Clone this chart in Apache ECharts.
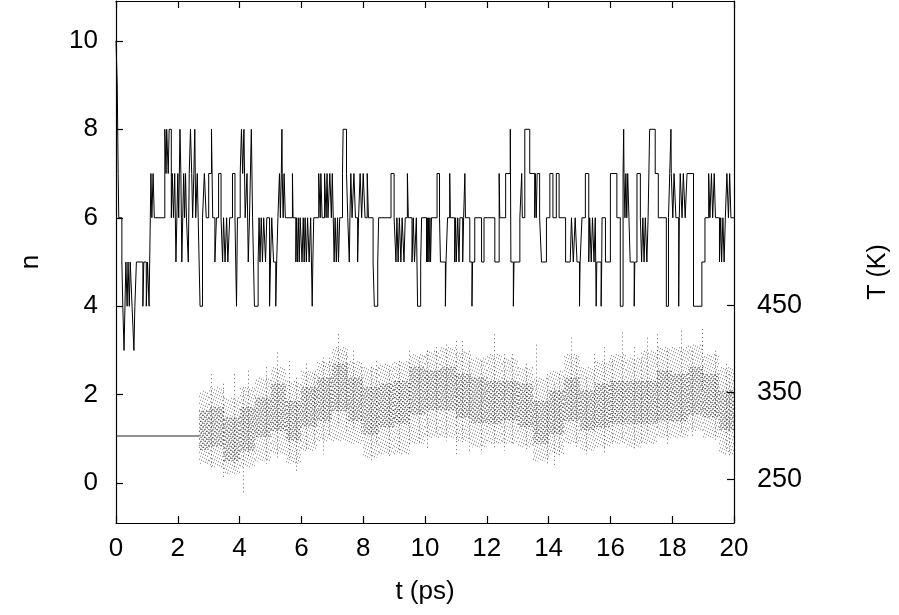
<!DOCTYPE html>
<html>
<head>
<meta charset="utf-8">
<title>n and T vs t</title>
<script src="https://cdn.jsdelivr.net/npm/echarts@6/dist/echarts.min.js"></script>
<style>
  html, body { margin: 0; padding: 0; background: #fff; }
  #chart { width: 899px; height: 615px; }
</style>
</head>
<body>
<div id="chart"></div>
<script>
// n(t): nValues[i] holds from nTimes[i] until nTimes[i+1]
const nTimes = [
  0.00, 0.04, 0.07, 0.09, 0.19, 0.22, 0.26, 0.29, 0.32, 0.36, 0.39, 0.43, 0.46, 0.52, 0.58, 0.61, 0.66, 0.87, 0.90, 0.98,
  1.02, 1.07, 1.11, 1.13, 1.16, 1.20, 1.24, 1.58, 1.62, 1.64, 1.69, 1.72, 1.79, 1.82, 1.86, 1.90, 1.94, 1.97, 2.00, 2.03,
  2.07, 2.10, 2.13, 2.16, 2.19, 2.22, 2.25, 2.28, 2.34, 2.37, 2.41, 2.45, 2.48, 2.52, 2.55, 2.58, 2.63, 2.66, 2.72, 2.80,
  2.86, 2.92, 3.00, 3.09, 3.13, 3.20, 3.25, 3.32, 3.40, 3.45, 3.48, 3.53, 3.58, 3.62, 3.68, 3.77, 3.85, 3.90, 3.93, 4.02,
  4.06, 4.10, 4.14, 4.18, 4.24, 4.28, 4.32, 4.38, 4.42, 4.48, 4.60, 4.63, 4.66, 4.70, 4.74, 4.78, 4.84, 4.88, 4.97, 5.00,
  5.04, 5.10, 5.17, 5.20, 5.24, 5.29, 5.32, 5.35, 5.37, 5.38, 5.41, 5.44, 5.48, 5.71, 5.73, 5.82, 5.84, 5.87, 5.90, 5.93,
  5.96, 6.02, 6.06, 6.09, 6.12, 6.16, 6.20, 6.25, 6.30, 6.35, 6.37, 6.40, 6.56, 6.61, 6.63, 6.67, 6.75, 6.80, 6.83, 6.86,
  6.92, 6.97, 7.00, 7.03, 7.06, 7.09, 7.13, 7.17, 7.20, 7.24, 7.33, 7.35, 7.46, 7.50, 7.55, 7.57, 7.60, 7.64, 7.70, 7.75,
  7.82, 7.85, 7.90, 7.95, 8.00, 8.06, 8.13, 8.17, 8.32, 8.36, 8.47, 8.50, 8.90, 9.00, 9.06, 9.09, 9.13, 9.17, 9.22, 9.26,
  9.32, 9.36, 9.43, 9.46, 9.58, 9.62, 9.66, 9.72, 9.76, 9.86, 9.89, 10.05, 10.07, 10.09, 10.11, 10.13, 10.16, 10.18, 10.21, 10.39,
  10.47, 10.50, 10.66, 10.68, 10.73, 10.80, 10.82, 10.96, 10.99, 11.01, 11.06, 11.10, 11.13, 11.22, 11.25, 11.29, 11.31, 11.45, 11.52, 11.54,
  11.61, 11.83, 11.91, 12.26, 12.40, 12.42, 12.61, 12.76, 12.78, 12.86, 12.88, 13.07, 13.13, 13.15, 13.23, 13.39, 13.55, 13.57, 13.60, 13.63,
  13.71, 13.77, 13.93, 14.04, 14.14, 14.25, 14.34, 14.55, 14.70, 14.74, 14.80, 14.86, 14.92, 15.00, 15.02, 15.08, 15.19, 15.30, 15.33, 15.38,
  15.42, 15.47, 15.51, 15.54, 15.56, 15.70, 15.72, 15.73, 15.84, 16.00, 16.21, 16.32, 16.41, 16.43, 16.44, 16.47, 16.50, 16.53, 16.56, 16.60,
  16.64, 16.77, 16.79, 16.86, 16.97, 17.01, 17.05, 17.09, 17.13, 17.18, 17.22, 17.27, 17.45, 17.55, 17.81, 17.88, 17.92, 17.96, 17.97, 18.02,
  18.06, 18.12, 18.21, 18.23, 18.26, 18.32, 18.36, 18.42, 18.48, 18.69, 18.96, 19.06, 19.18, 19.22, 19.27, 19.31, 19.36, 19.40, 19.53, 19.57,
  19.60, 19.64, 19.68, 19.72, 19.77, 19.82, 19.86, 19.90, 20.00
];
const nValues = [
  10, 9, 7, 6, 5, 4, 3, 4, 5, 4, 5, 4, 5, 4, 3, 4, 5, 4, 5, 4,
  5, 4, 6, 7, 6, 7, 6, 8, 7, 8, 7, 8, 6, 7, 6, 7, 5, 6, 7, 6,
  8, 7, 5, 6, 7, 6, 7, 6, 5, 7, 8, 7, 6, 7, 8, 6, 7, 6, 4, 6,
  7, 6, 7, 8, 6, 5, 6, 7, 6, 5, 6, 5, 6, 5, 6, 7, 6, 4, 6, 7,
  8, 7, 8, 6, 7, 5, 6, 8, 6, 4, 5, 6, 5, 6, 5, 6, 5, 6, 4, 5,
  6, 5, 4, 5, 6, 7, 6, 7, 8, 7, 6, 7, 6, 7, 6, 5, 6, 5, 6, 5,
  6, 5, 6, 5, 6, 5, 6, 5, 6, 4, 5, 6, 7, 6, 7, 6, 7, 6, 7, 6,
  7, 6, 7, 6, 5, 6, 5, 6, 5, 6, 7, 8, 7, 6, 5, 6, 7, 6, 7, 6,
  5, 6, 7, 6, 7, 6, 7, 6, 5, 4, 5, 6, 7, 6, 5, 6, 5, 6, 5, 6,
  5, 6, 7, 6, 5, 6, 5, 6, 4, 5, 6, 5, 6, 5, 6, 5, 6, 5, 6, 7,
  6, 5, 4, 5, 6, 7, 6, 5, 6, 5, 6, 5, 6, 5, 6, 7, 6, 5, 4, 5,
  6, 5, 6, 5, 7, 6, 7, 8, 5, 4, 5, 6, 7, 6, 8, 7, 6, 7, 6, 7,
  6, 5, 6, 7, 6, 7, 6, 5, 5, 6, 5, 6, 5, 4, 5, 6, 7, 5, 6, 5,
  6, 5, 6, 4, 5, 4, 5, 6, 5, 7, 6, 4, 7, 8, 7, 6, 7, 6, 7, 6,
  5, 4, 5, 7, 6, 5, 6, 5, 6, 5, 6, 8, 7, 6, 4, 6, 7, 8, 7, 6,
  7, 6, 4, 6, 7, 6, 7, 6, 7, 4, 5, 6, 7, 6, 7, 6, 7, 6, 5, 6,
  5, 6, 5, 6, 7, 6, 7, 6, 6
];

// T before the cloud starts (K)
const flatTimes = [0, 2.7];
const flatTemps = [300, 300];

// T cloud read in blocks: sparse outer extent and dense core extent (K)
const binStart = [2.7, 3.0, 3.5, 4.0, 4.5, 5.0, 5.5, 6.0, 6.5, 7.0, 7.5, 8.0, 8.5, 9.0, 9.5, 10.0, 10.5, 11.0,
  11.5, 12.0, 12.5, 13.0, 13.5, 14.0, 14.5, 15.0, 15.5, 16.0, 16.5, 17.0, 17.5, 18.0, 18.5, 19.0, 19.5];
const binEnd = [3.0, 3.5, 4.0, 4.5, 5.0, 5.5, 6.0, 6.5, 7.0, 7.5, 8.0, 8.5, 9.0, 9.5, 10.0, 10.5, 11.0, 11.5,
  12.0, 12.5, 13.0, 13.5, 14.0, 14.5, 15.0, 15.5, 16.0, 16.5, 17.0, 17.5, 18.0, 18.5, 19.0, 19.5, 20.0];
const outerLo = [268, 264, 256, 264, 271, 279, 268, 283, 294, 294, 291, 275, 279, 279, 291, 298, 298, 294,
  287, 291, 291, 287, 271, 279, 291, 283, 287, 291, 287, 291, 298, 298, 306, 298, 279];
const outerHi = [352, 356, 344, 356, 367, 379, 363, 375, 386, 402, 386, 379, 383, 386, 394, 398, 402, 398,
  390, 394, 390, 379, 367, 375, 394, 379, 386, 394, 390, 398, 402, 402, 405, 394, 379];
const coreLo = [283, 287, 271, 283, 298, 306, 294, 310, 317, 329, 317, 302, 310, 314, 325, 329, 329, 321,
  314, 314, 317, 310, 291, 302, 317, 306, 310, 314, 314, 314, 317, 317, 325, 321, 306];
const coreHi = [329, 333, 321, 333, 344, 360, 340, 356, 367, 383, 367, 356, 360, 363, 379, 375, 379, 371,
  367, 363, 363, 360, 340, 352, 367, 352, 360, 363, 363, 363, 375, 371, 379, 371, 352];

// tall isolated streaks in the cloud
const streakT = [3.08, 3.45, 3.83, 4.12, 4.26, 4.85, 5.20, 5.61, 5.82, 6.15, 6.42, 6.69, 6.90, 7.17, 7.44, 7.66,
  7.93, 8.25, 8.41, 8.84, 9.17, 9.49, 9.81, 10.08, 10.35, 10.67, 11.00, 11.20, 11.43, 11.80, 12.24, 12.56, 12.83,
  13.26, 13.58, 13.96, 14.18, 14.34, 14.72, 14.88, 15.20, 15.47, 15.79, 16.06, 16.39, 16.76, 16.98, 17.19, 17.52,
  17.84, 18.27, 18.65, 18.97, 19.40, 19.73, 19.83];
const streakLo = [264, 252, 264, 233, 275, 268, 275, 271, 260, 283, 291, 279, 298, 314, 302, 306,
  302, 271, 291, 275, 283, 291, 291, 283, 302, 294, 279, 291, 283, 283, 287, 283, 291,
  283, 302, 268, 264, 275, 317, 287, 279, 302, 279, 291, 298, 283, 291, 302, 310,
  291, 302, 298, 352, 294, 283, 275];
const streakHi = [371, 360, 371, 356, 375, 379, 396, 386, 367, 383, 371, 390, 390, 417, 394, 398,
  379, 379, 386, 375, 386, 398, 390, 398, 402, 405, 409, 409, 390, 386, 417, 394, 394,
  383, 405, 371, 360, 371, 413, 390, 367, 394, 402, 386, 419, 402, 390, 413, 417,
  398, 421, 398, 423, 398, 383, 371];

const nTicks = [0, 2, 4, 6, 8, 10];
const tempTicks = [250, 350, 450];

const font = "'Liberation Sans', Arial, Helvetica, sans-serif";
const chart = echarts.init(document.getElementById('chart'));

// speckle pattern: each pixel column gets its own dash phase
function phase(x, period) {
  return (x * x * 7 + x * 3) % period;
}

function renderBand(params, api) {
  const x0 = Math.round(api.coord([api.value(0), 300])[0]);
  const x1 = Math.round(api.coord([api.value(1), 300])[0]);
  const yOL = api.coord([0, api.value(2)])[1];
  const yOH = api.coord([0, api.value(3)])[1];
  const yCL = api.coord([0, api.value(4)])[1];
  const yCH = api.coord([0, api.value(5)])[1];
  const children = [];
  for (let x = x0; x < x1; x++) {
    children.push({
      type: 'line',
      shape: { x1: x + 0.5, y1: yOH, x2: x + 0.5, y2: yOL },
      style: { stroke: 'rgba(0,0,0,0.5)', lineWidth: 1, lineDash: [1, 6], lineDashOffset: phase(x, 7) }
    });
    children.push({
      type: 'line',
      shape: { x1: x + 0.5, y1: yCH, x2: x + 0.5, y2: yCL },
      style: { stroke: 'rgba(0,0,0,0.55)', lineWidth: 1, lineDash: [1, 3], lineDashOffset: phase(x + 5, 4) }
    });
  }
  return { type: 'group', children: children };
}

function renderStreak(params, api) {
  const top = api.coord([api.value(0), api.value(2)]);
  const bot = api.coord([api.value(0), api.value(1)]);
  const x = Math.round(top[0]) + 0.5;
  return {
    type: 'line',
    shape: { x1: x, y1: top[1], x2: x, y2: bot[1] },
    style: { stroke: 'rgba(0,0,0,0.6)', lineWidth: 1, lineDash: [1, 3] }
  };
}

const axisLine = { show: true, onZero: false, lineStyle: { color: '#000', width: 1.2 } };
const tick = { show: true, inside: true, length: 7, lineStyle: { color: '#000', width: 1.2 } };

const option = {
  animation: false,
  backgroundColor: '#fff',
  grid: { left: 116, right: 164, top: 1, bottom: 92 },
  xAxis: [{
    type: 'value',
    min: 0,
    max: 20,
    interval: 2,
    position: 'bottom',
    axisLine: axisLine,
    axisTick: tick,
    splitLine: { show: false },
    axisLabel: { fontSize: 26, color: '#000', fontFamily: font, margin: 13 },
    name: 't (ps)',
    nameLocation: 'middle',
    nameGap: 56,
    nameTextStyle: { fontSize: 26, color: '#000', fontFamily: font }
  }, {
    type: 'value',
    min: 0,
    max: 20,
    interval: 2,
    position: 'top',
    axisLine: axisLine,
    axisTick: tick,
    splitLine: { show: false },
    axisLabel: { show: false }
  }],
  yAxis: [{
    type: 'value',
    min: -0.9,
    max: 10.9,
    position: 'left',
    axisLine: axisLine,
    axisTick: Object.assign({}, tick, { customValues: nTicks }),
    splitLine: { show: false },
    axisLabel: { customValues: nTicks, fontSize: 26, color: '#000', fontFamily: font, margin: 18 },
    name: 'n',
    nameLocation: 'middle',
    nameRotate: 90,
    nameGap: 72,
    nameTextStyle: { fontSize: 26, color: '#000', fontFamily: font }
  }, {
    type: 'value',
    min: 200,
    max: 800,
    position: 'right',
    axisLine: axisLine,
    axisTick: Object.assign({}, tick, { customValues: tempTicks }),
    splitLine: { show: false },
    axisLabel: { customValues: tempTicks, fontSize: 27, color: '#000', fontFamily: font, margin: 23 },
    name: 'T (K)',
    nameLocation: 'middle',
    nameRotate: 90,
    nameGap: 132,
    nameTextStyle: { fontSize: 25, color: '#000', fontFamily: font, padding: [0, 20, 0, 0] }
  }],
  series: [{
    type: 'custom',
    xAxisIndex: 0,
    yAxisIndex: 1,
    renderItem: renderBand,
    clip: true,
    encode: { x: [0, 1], y: [2, 3, 4, 5] },
    data: binStart.map((t, i) => [t, binEnd[i], outerLo[i], outerHi[i], coreLo[i], coreHi[i]]),
    silent: true
  }, {
    type: 'custom',
    xAxisIndex: 0,
    yAxisIndex: 1,
    renderItem: renderStreak,
    clip: true,
    encode: { x: 0, y: [1, 2] },
    data: streakT.map((t, i) => [t, streakLo[i], streakHi[i]]),
    silent: true
  }, {
    type: 'line',
    xAxisIndex: 0,
    yAxisIndex: 1,
    data: flatTimes.map((t, i) => [t, flatTemps[i]]),
    showSymbol: false,
    lineStyle: { color: '#222', width: 1 },
    silent: true
  }, {
    type: 'line',
    xAxisIndex: 0,
    yAxisIndex: 0,
    step: 'end',
    data: nTimes.map((t, i) => [t, nValues[i]]),
    showSymbol: false,
    lineStyle: { color: '#000', width: 1 },
    silent: true
  }]
};

chart.setOption(option);
</script>
</body>
</html>
